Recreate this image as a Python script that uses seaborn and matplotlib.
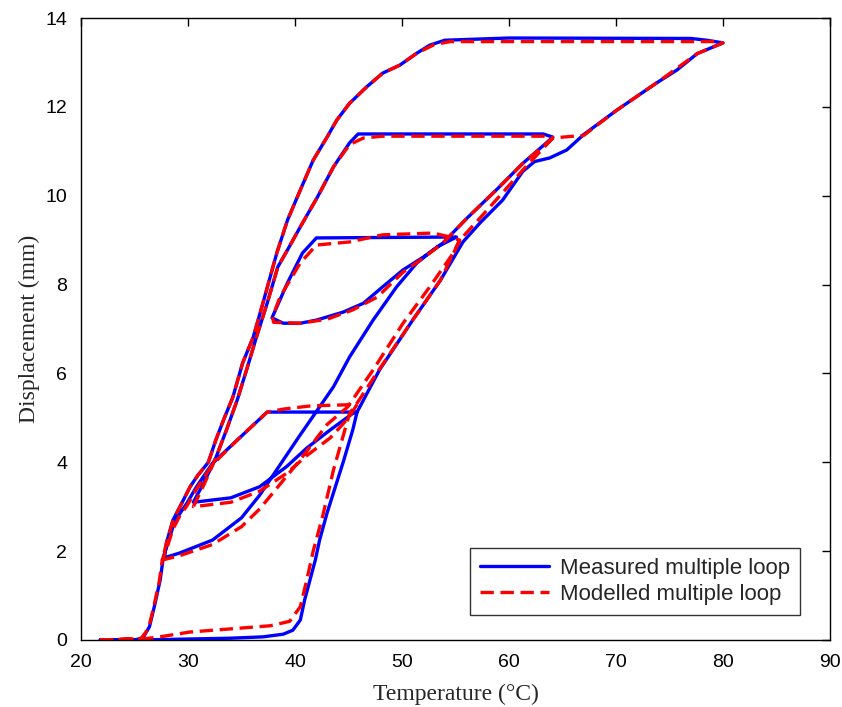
import numpy as np
import pandas as pd
import matplotlib
matplotlib.use("Agg")
import matplotlib.pyplot as plt
import seaborn as sns

# Measured loop, branch by branch (temperature degC, displacement mm)
meas_heat_80 = [(21.8, 0.0), (25.5, 0.0), (30.0, 0.02), (34.0, 0.04), (37.0, 0.07), (38.9, 0.13),
                (39.8, 0.22), (40.5, 0.45), (40.9, 0.9), (41.4, 1.35), (41.9, 1.8), (42.3, 2.25),
                (43.0, 2.86), (44.5, 4.0), (45.4, 4.73), (45.8, 5.13), (47.9, 6.08), (51.0, 7.2),
                (53.6, 8.1), (55.7, 8.96), (57.3, 9.39), (59.4, 9.9), (61.3, 10.55), (62.4, 10.77),
                (63.8, 10.85), (65.4, 11.03), (67.0, 11.38), (70.1, 11.93), (73.8, 12.54),
                (75.7, 12.83), (77.6, 13.2), (79.1, 13.35), (80.0, 13.44)]
meas_cool_80 = [(78.5, 13.5), (77.0, 13.54), (60.0, 13.55), (54.0, 13.5), (52.6, 13.39), (51.4, 13.21),
                (49.8, 12.94), (48.2, 12.76), (46.7, 12.45), (45.1, 12.08), (43.9, 11.7), (43.0, 11.32),
                (41.7, 10.8), (40.5, 10.13), (39.3, 9.45), (38.3, 8.71), (37.0, 7.58), (36.1, 6.82),
                (35.1, 6.23), (34.2, 5.47), (33.4, 5.0), (32.6, 4.5), (31.9, 4.0), (30.9, 3.7),
                (30.2, 3.45), (29.25, 3.0), (28.6, 2.7), (28.0, 2.2), (27.8, 1.85)]
meas_heat_28 = [(29.25, 1.96), (32.3, 2.25), (35.0, 2.75), (36.7, 3.26), (40.3, 4.55), (43.6, 5.7),
                (45.1, 6.37), (47.3, 7.2), (49.5, 7.95), (51.4, 8.49), (53.3, 8.85), (55.1, 9.07)]
meas_cool_55 = [(54.5, 9.07), (42.0, 9.05), (40.7, 8.71), (39.3, 8.04), (37.85, 7.25)]
meas_heat_38 = [(38.9, 7.13), (40.5, 7.13), (42.0, 7.2), (44.5, 7.38), (46.4, 7.58), (48.2, 7.95),
                (50.1, 8.33), (52.0, 8.62), (53.8, 8.93), (56.1, 9.5), (58.9, 10.15), (61.3, 10.73),
                (63.5, 11.19), (64.1, 11.32)]
meas_cool_64 = [(63.2, 11.39), (45.9, 11.39), (45.1, 11.19), (43.6, 10.65), (42.1, 9.97), (40.5, 9.3),
                (39.3, 8.78), (38.4, 8.4), (37.4, 7.58), (36.4, 6.82), (35.5, 6.1), (34.6, 5.4),
                (33.6, 4.73), (32.6, 4.1), (31.5, 3.55), (30.5, 3.1)]
meas_heat_30 = [(34.0, 3.2), (36.7, 3.45), (39.2, 3.9), (41.1, 4.32), (43.3, 4.73), (45.4, 5.1),
                (45.8, 5.13)]
meas_cool_45 = [(37.4, 5.13), (34.6, 4.5), (32.3, 3.98), (30.8, 3.45), (29.9, 3.08), (29.25, 2.85),
                (28.6, 2.55), (28.0, 2.1), (27.7, 1.87), (27.4, 1.35), (26.9, 0.8), (26.4, 0.3),
                (25.8, 0.05), (25.0, 0.0), (21.8, 0.0)]

# Modelled loop
mod_heat_80 = [(21.8, 0.0), (26.0, 0.03), (27.1, 0.06), (30.2, 0.18), (34.0, 0.25), (37.7, 0.32),
               (39.5, 0.42), (40.5, 0.75), (41.1, 1.35), (41.7, 2.0), (42.6, 2.8), (43.6, 3.83),
               (45.1, 5.1), (45.8, 5.33), (47.9, 6.1), (51.0, 7.2), (53.6, 8.1), (55.4, 9.0),
               (57.3, 9.5), (61.3, 10.58), (64.1, 11.3), (67.0, 11.36), (70.1, 11.93), (73.8, 12.54),
               (77.6, 13.2), (79.4, 13.38), (80.0, 13.44)]
mod_cool_80 = [(79.5, 13.47), (54.5, 13.47), (53.0, 13.4), (51.4, 13.21), (49.8, 12.94), (48.2, 12.76),
               (46.7, 12.45), (45.1, 12.08), (43.9, 11.7), (43.0, 11.32), (41.7, 10.8), (40.5, 10.13),
               (39.3, 9.45), (38.3, 8.71), (37.0, 7.58), (36.1, 6.82), (35.1, 6.23), (34.2, 5.47),
               (33.4, 5.0), (32.6, 4.5), (31.9, 4.0), (30.9, 3.7), (30.2, 3.45), (29.25, 3.0),
               (28.6, 2.7), (28.0, 2.2), (27.6, 1.8)]
mod_heat_28 = [(29.25, 1.9), (32.3, 2.15), (35.0, 2.55), (36.7, 2.95), (40.3, 4.0), (43.0, 4.85),
               (44.9, 5.24), (47.3, 6.08), (50.1, 7.13), (52.6, 7.95), (54.8, 8.71), (55.4, 9.0)]
mod_cool_55 = [(54.5, 9.07), (52.9, 9.16), (48.2, 9.12), (45.1, 8.96), (42.0, 8.89), (40.5, 8.49),
               (38.6, 7.72), (37.9, 7.27), (38.0, 7.15)]
mod_heat_38 = [(40.5, 7.13), (43.0, 7.22), (45.4, 7.43), (47.7, 7.72), (50.1, 8.28), (52.0, 8.6),
               (53.8, 8.93), (56.1, 9.5), (58.9, 10.15), (61.3, 10.73), (64.1, 11.3)]
mod_cool_64 = [(63.5, 11.34), (48.2, 11.34), (46.4, 11.3), (45.1, 11.15), (43.6, 10.65), (42.1, 9.97),
               (40.5, 9.3), (39.3, 8.78), (38.4, 8.4), (37.4, 7.58), (36.4, 6.82), (35.5, 6.1),
               (34.6, 5.4), (33.6, 4.73), (32.6, 4.1), (31.5, 3.5), (30.5, 3.0)]
mod_heat_30 = [(34.0, 3.1), (36.7, 3.35), (39.2, 3.75), (41.1, 4.15), (43.3, 4.55), (45.0, 5.0),
               (45.8, 5.3)]
mod_cool_45 = [(41.5, 5.27), (39.0, 5.2), (37.4, 5.13), (34.6, 4.5), (32.3, 3.95), (30.8, 3.4),
               (29.9, 3.02), (29.25, 2.8), (28.6, 2.5), (28.0, 2.05), (27.6, 1.8), (27.3, 1.3),
               (26.8, 0.75), (26.3, 0.25), (25.6, 0.03), (21.8, 0.0)]

xticks = [20, 30, 40, 50, 60, 70, 80, 90]
yticks = [0, 2, 4, 6, 8, 10, 12, 14]


def to_frame(*branches):
    pts = [p for b in branches for p in b]
    return pd.DataFrame({"T": [p[0] for p in pts], "D": [p[1] for p in pts],
                         "order": np.arange(len(pts))})


measured = to_frame(meas_heat_80, meas_cool_80, meas_heat_28, meas_cool_55, meas_heat_38,
                    meas_cool_64, meas_heat_30, meas_cool_45)
modelled = to_frame(mod_heat_80, mod_cool_80, mod_heat_28, mod_cool_55, mod_heat_38,
                    mod_cool_64, mod_heat_30, mod_cool_45)

sns.set_style("white")
plt.rcParams["font.family"] = ["Liberation Sans", "DejaVu Sans"]

fig = plt.figure(figsize=(8.42, 7.07), dpi=100)
ax = fig.add_axes([0.0962, 0.0948, 0.8895, 0.8797])

sns.lineplot(data=measured, x="T", y="D", sort=False, estimator=None, color="#0000ff",
             linewidth=2.4, label="Measured multiple loop", ax=ax)
sns.lineplot(data=modelled, x="T", y="D", sort=False, estimator=None, color="#ff0000",
             linewidth=2.4, linestyle=(0, (4, 2)), label="Modelled multiple loop", ax=ax)

ax.set_xlim(20, 90)
ax.set_ylim(0, 14)
ax.set_xticks(xticks)
ax.set_yticks(yticks)
ax.tick_params(direction="in", length=6, width=1, top=True, right=True, labelsize=14,
               colors="black")
ax.tick_params(axis="x", pad=10)
ax.tick_params(axis="y", pad=10)
for s in ax.spines.values():
    s.set_color("black")
    s.set_linewidth(1)

ax.set_xlabel("Temperature (\u00b0C)", fontsize=17, family="Liberation Serif", labelpad=9)
ax.set_ylabel("Displacement (mm)", fontsize=17, family="Liberation Serif", labelpad=4)

leg = ax.legend(loc="lower right", bbox_to_anchor=(0.96, 0.04), fontsize=16, frameon=True,
                fancybox=False, handlelength=3.1, borderpad=0.45, labelspacing=0.25,
                handletextpad=0.5, borderaxespad=0)
leg.get_frame().set_edgecolor("black")
leg.get_frame().set_linewidth(1)

fig.savefig("out.png", dpi=100, facecolor="white")
